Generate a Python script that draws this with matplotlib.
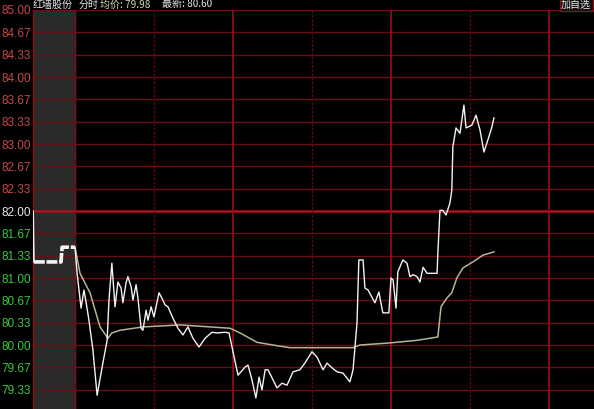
import matplotlib
matplotlib.use("Agg")
import matplotlib.pyplot as plt

plt.rcParams['font.family'] = ['Noto Sans CJK SC', 'DejaVu Sans']

# ---- data ----
prev_close = 82.00
# pre-market (call auction) segment, minutes relative to open
pre_time = [-15.9, -15.6, -5.3, -4.9, 0.0]
pre_price = [82.00, 81.24, 81.24, 81.46, 81.46]

# intraday price, minutes after open
price_time = [0.0, 0.8, 2.3, 3.4, 4.2, 5.3, 6.8, 8.4, 10.3, 12.2, 12.9, 14.0, 15.2, 16.3,
              17.5, 18.2, 19.4, 20.1, 21.3, 22.0, 23.2, 23.9, 25.1, 25.8, 27.0, 27.7, 28.9,
              30.0, 31.1, 31.9, 33.0, 34.2, 35.3, 37.2, 39.1, 41.0, 42.9, 44.8, 47.1, 49.4,
              52.0, 53.9, 57.0, 58.5, 60.0, 61.9, 64.6, 65.7, 67.2, 68.7, 69.9, 71.0, 72.2,
              73.3, 75.2, 76.7, 78.6, 80.5, 82.8, 85.4, 87.3, 90.0, 91.9, 94.2, 95.7, 97.6,
              99.5, 101.8, 104.4, 105.6, 107.1, 107.8, 109.4, 110.1, 111.3, 113.9, 115.4,
              116.9, 119.2, 120.0, 120.8, 121.9, 122.6, 124.5, 126.1, 127.2, 128.4, 129.9,
              131.0, 132.2, 133.7, 137.5, 137.8, 138.6, 139.7, 140.9, 142.4, 143.1, 143.5,
              144.7, 146.2, 147.7, 148.5, 150.7, 152.3, 153.8, 155.3, 156.8, 158.3, 159.1]
price_vals = [81.46, 81.07, 80.55, 80.82, 80.64, 80.37, 79.93, 79.25, 79.67, 80.07, 80.67,
              81.22, 80.57, 80.94, 80.85, 80.63, 80.93, 81.02, 80.87, 80.67, 80.90, 80.70,
              80.25, 80.22, 80.52, 80.37, 80.57, 80.42, 80.63, 80.78, 80.70, 80.60, 80.57,
              80.40, 80.25, 80.15, 80.27, 80.10, 79.97, 80.10, 80.19, 80.18, 80.19, 80.18,
              79.90, 79.55, 79.67, 79.70, 79.48, 79.21, 79.52, 79.33, 79.63, 79.63, 79.48,
              79.36, 79.43, 79.40, 79.60, 79.63, 79.73, 79.90, 79.82, 79.63, 79.73, 79.66,
              79.60, 79.58, 79.45, 79.63, 80.33, 81.27, 81.27, 80.85, 80.82, 80.63, 80.79,
              80.48, 80.48, 81.00, 80.97, 80.55, 81.09, 81.27, 81.22, 81.02, 81.05, 81.02,
              80.94, 81.16, 81.07, 81.07, 81.37, 82.01, 82.01, 81.94, 82.12, 82.31, 82.96,
              83.24, 83.16, 83.58, 83.24, 83.28, 83.43, 83.21, 82.88, 83.06, 83.25, 83.39]

# average price line
avg_time = [0.0, 1.9, 5.7, 9.5, 12.5, 14.0, 17.1, 25.8, 39.9, 58.9, 62.7, 69.1, 76.7, 81.6,
            105.6, 108.2, 119.2, 129.9, 137.8, 139.0, 141.2, 143.1, 145.0, 147.3, 151.1,
            154.9, 159.1]
avg_vals = [81.46, 81.07, 80.78, 80.27, 80.10, 80.18, 80.22, 80.27, 80.30, 80.25, 80.18,
            80.04, 79.99, 79.96, 79.96, 80.00, 80.03, 80.07, 80.12, 80.57, 80.70, 80.78,
            81.00, 81.15, 81.24, 81.34, 81.39]

tick_labels = ["85.00", "84.67", "84.33", "84.00", "83.67", "83.33", "83.00", "82.67",
               "82.33", "82.00", "81.67", "81.33", "81.00", "80.67", "80.33", "80.00",
               "79.67", "79.33"]
vgrid_minor = [30, 90, 150]
vgrid_major = [60, 120, 180]

header_name = "红墙股份"
header_mode = "分时"
header_avg = "均价: 79.98"
header_last = "最新: 80.60"
button_text = "加自选"

# ---- figure ----
W, H = 594, 409
fig = plt.figure(figsize=(W / 100, H / 100), dpi=100, facecolor='black')
ax = fig.add_axes([33 / W, 0, (W - 33) / W, (H - 10) / H])
ax.set_facecolor('black')
ax.set_xlim(-15.95, 197.1)
ax.set_ylim(79.045, 85.0)

# pre-market shaded band
ax.axvspan(-15.95, 0, color='#2a2a2a', zorder=0)

# horizontal grid
tick_vals = [float(s) for s in tick_labels]
for v in tick_vals:
    if abs(v - prev_close) < 1e-6:
        ax.axhline(v, color='#b01020', lw=1.8, zorder=1)
    else:
        ax.axhline(v, color='#6e0c14', lw=1.0, zorder=1)
# vertical grid
ax.axvline(0, color='#7a0c16', lw=1.0, zorder=1)
for v in vgrid_minor:
    ax.axvline(v, color='#5a0a12', lw=1.0, ls=(0, (2, 1)), zorder=1)
for v in vgrid_major:
    ax.axvline(v, color='#9a0c1a', lw=1.2, zorder=1)

# lines
ax.plot(pre_time[:2], pre_price[:2], color='#f0f0f0', lw=1.2, zorder=3)
ax.plot(pre_time[1:], pre_price[1:], color='#f4f4f4', lw=2.6, ls=(0, (3.0, 0.5)),
        zorder=3, solid_joinstyle='miter')
ax.plot(avg_time, avg_vals, color='#b4b496', lw=1.1, zorder=3)
ax.plot(price_time, price_vals, color='#f2f2f2', lw=1.0, zorder=4)

# axes styling
for s in ['top', 'right', 'bottom']:
    ax.spines[s].set_visible(False)
ax.spines['left'].set_color('#8a0c16')
ax.spines['left'].set_linewidth(1.0)
ax.set_xticks([])
ax.set_yticks(tick_vals)
ax.set_yticklabels(tick_labels, fontfamily='Liberation Sans', fontsize=8.5)
ax.tick_params(axis='y', length=0, pad=1.5)
for lab, v in zip(ax.get_yticklabels(), tick_vals):
    if v > prev_close + 1e-6:
        lab.set_color('#c84848')
    elif v < prev_close - 1e-6:
        lab.set_color('#3cc83c')
    else:
        lab.set_color('#e6e6e6')

# header texts
ty = 1 - 4.5 / H
hfs = 7.2
fig.text(33 / W, ty, header_name, color='#e8e8e8', fontsize=hfs, va='center', ha='left')
fig.text(79 / W, ty, header_mode, color='#e8e8e8', fontsize=hfs, va='center', ha='left')
fig.text(100 / W, ty, header_avg, color='#d8d8b0', fontsize=hfs, va='center', ha='left')
fig.text(162 / W, ty, header_last, color='#e8e8e8', fontsize=hfs, va='center', ha='left')
fig.text(561 / W, ty, button_text, color='#e8e8e8', fontsize=hfs, va='center', ha='left',
         bbox=dict(boxstyle='square,pad=0.15', fc='#101010', ec='#8a0c16', lw=1))

fig.savefig('out.png', dpi=100, facecolor='black')
